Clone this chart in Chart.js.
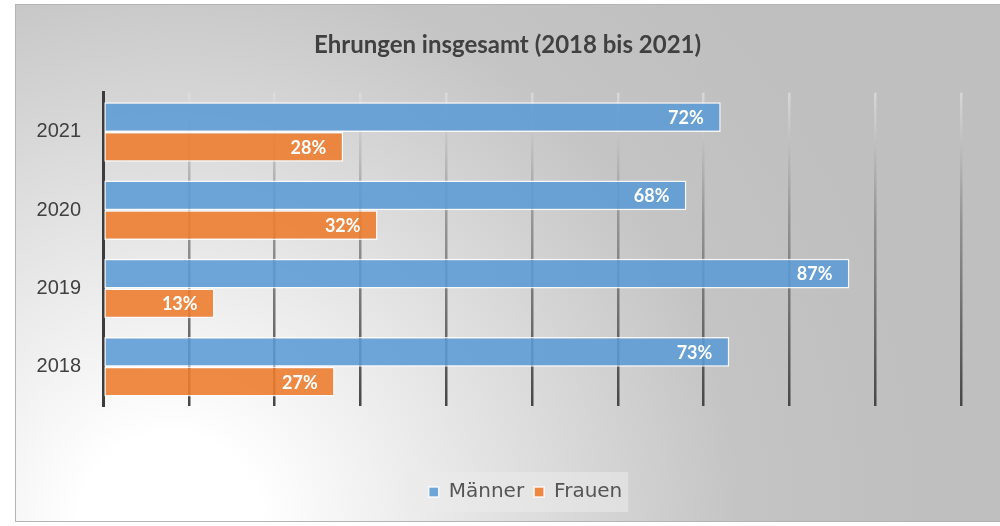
<!DOCTYPE html>
<html>
<head>
<meta charset="utf-8">
<script src="https://cdn.jsdelivr.net/npm/chart.js@4/dist/chart.umd.min.js"></script>
<style>
  html, body { margin: 0; padding: 0; background: #fff; }
  #wrap { width: 1000px; height: 526px; }
</style>
</head>
<body>
<div id="wrap"><canvas id="ehrungenChart" width="1000" height="526"></canvas></div>
<script>
const years = ['2021', '2020', '2019', '2018']; // Y-axis labels, top to bottom
const maenner = [72, 68, 87, 73];
const frauen = [28, 32, 13, 27];
const xTicks = [0, 10, 20, 30, 40, 50, 60, 70, 80, 90, 100]; // gridline positions (%)
const chartTitle = 'Ehrungen insgesamt (2018 bis 2021)';

// background + frame + legend panel, drawn before everything else
const backdrop = {
    id: 'backdrop',
    afterLayout(chart) {
        // legend sits a bit right of centre in the original
        if (chart.legend) {
            chart.legend.left += 18;
            chart.legend.right += 18;
        }
    },
    beforeDraw(chart) {
        const c = chart.ctx;
        c.save();
        const g = c.createRadialGradient(170, 526, 0, 170, 526, 760);
        g.addColorStop(0, '#ffffff');
        g.addColorStop(0.12, '#ffffff');
        g.addColorStop(0.75, '#c4c4c4');
        g.addColorStop(1, '#bfbfbf');
        c.fillStyle = g;
        c.fillRect(15, 4, 985, 518);
        c.strokeStyle = '#b4b4b4';
        c.lineWidth = 1;
        c.strokeRect(15.5, 4.5, 990, 517);

        const boxes = chart.legend && chart.legend.legendHitBoxes;
        if (boxes && boxes.length) {
            const l = Math.min(...boxes.map(b => b.left));
            const r = Math.max(...boxes.map(b => b.left + b.width));
            const t = Math.min(...boxes.map(b => b.top));
            const b = Math.max(...boxes.map(b => b.top + b.height));
            c.fillStyle = 'rgba(235,235,235,0.55)';
            c.fillRect(l - 24, t - 10, r - l + 30, b - t + 20);
        }
        c.restore();
    }
};

// white percentage labels at the inner end of each bar
const barLabels = {
    id: 'barLabels',
    afterDatasetsDraw(chart) {
        const c = chart.ctx;
        c.save();
        c.font = 'bold 18px Lato';
        c.fillStyle = '#ffffff';
        c.textAlign = 'right';
        c.textBaseline = 'middle';
        chart.data.datasets.forEach((ds, i) => {
            chart.getDatasetMeta(i).data.forEach((bar, j) => {
                c.fillText(ds.data[j] + '%', bar.x - 17, bar.y + 1);
            });
        });
        c.restore();
    }
};

function gridColor(ctx) {
    const area = ctx.chart.chartArea;
    if (!area) return 'rgba(90,90,90,0.8)';
    const g = ctx.chart.ctx.createLinearGradient(0, area.top, 0, area.bottom);
    g.addColorStop(0, 'rgba(225,225,225,0.7)');
    g.addColorStop(0.4, 'rgba(140,140,140,0.85)');
    g.addColorStop(1, 'rgba(70,70,70,1)');
    return g;
}

const canvas = document.getElementById('ehrungenChart');
const ctx = canvas.getContext('2d');

const ehrungenChart = new Chart(ctx, {
    type: 'bar',
    data: {
        labels: years,
        datasets: [{
            label: 'Männer',
            data: maenner,
            backgroundColor: 'rgba(91,155,213,0.88)',
            borderColor: 'rgba(255,255,255,0.85)',
            borderWidth: 1.5,
            borderSkipped: false
        }, {
            label: 'Frauen',
            data: frauen,
            backgroundColor: 'rgba(237,125,49,0.9)',
            borderColor: 'rgba(255,255,255,0.85)',
            borderWidth: 1.5,
            borderSkipped: false
        }]
    },
    options: {
        indexAxis: 'y',
        responsive: false,
        animation: false,
        devicePixelRatio: 1,
        layout: { padding: { left: 15, right: 0, top: 4, bottom: 14 } },
        categoryPercentage: 0.76,
        barPercentage: 1,
        scales: {
            x: {
                min: 0,
                max: 104.55,
                ticks: { display: false },
                afterBuildTicks: (scale) => { scale.ticks = xTicks.map(v => ({ value: v })); },
                afterFit: (scale) => { scale.height = 66; },
                grid: { color: gridColor, lineWidth: 2.5, drawTicks: false },
                border: { display: false }
            },
            y: {
                afterFit: (scale) => { scale.width = 88; },
                grid: { display: false, drawTicks: false },
                border: { display: true, color: '#3c3c3c', width: 3 },
                ticks: {
                    padding: 22,
                    color: '#404040',
                    font: { family: 'Liberation Sans', size: 20 }
                }
            }
        },
        plugins: {
            title: {
                display: true,
                text: chartTitle,
                color: '#404040',
                font: { family: 'Lato', size: 24, weight: 'bold' },
                padding: { top: 27, bottom: 33 }
            },
            legend: {
                position: 'bottom',
                labels: {
                    boxWidth: 10,
                    boxHeight: 10,
                    padding: 10,
                    color: '#555555',
                    font: { family: 'DejaVu Sans', size: 20 }
                }
            },
            tooltip: { enabled: false }
        }
    },
    plugins: [backdrop, barLabels]
});
</script>
</body>
</html>
